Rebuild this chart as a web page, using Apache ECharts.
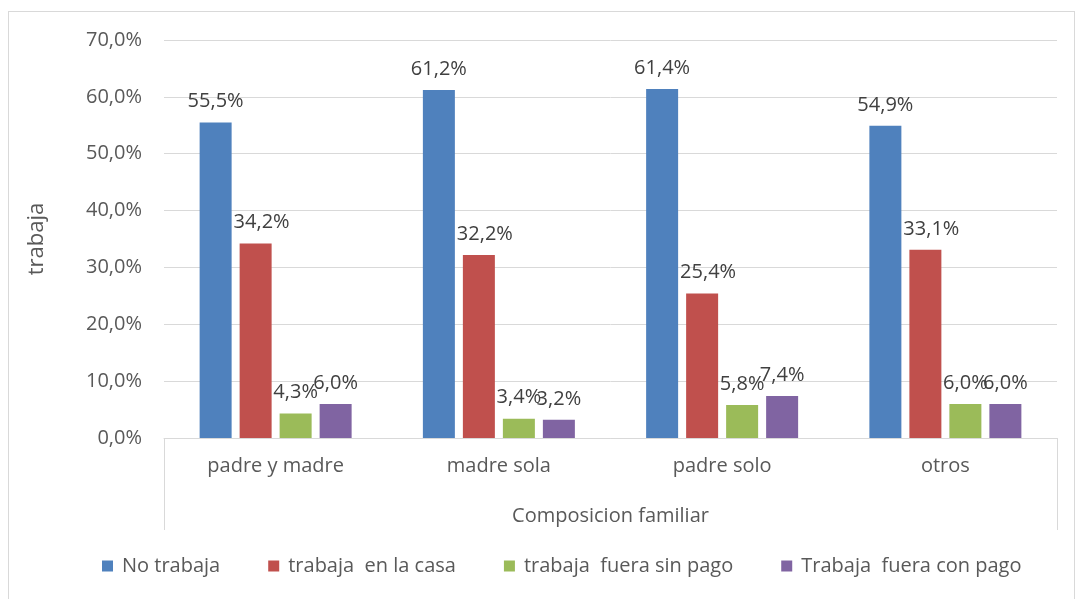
<!DOCTYPE html>
<html>
<head>
<meta charset="utf-8">
<script src="https://cdn.jsdelivr.net/npm/echarts@6/dist/echarts.min.js"></script>
<style>
  html, body { margin: 0; padding: 0; background: #fff; }
  .frame { position: absolute; left: 8px; top: 11px; width: 1067px; height: 600px; border: 1px solid #d9d9d9; box-sizing: border-box; }
  #chart { position: absolute; left: 0; top: 0; width: 1079px; height: 599px; }
</style>
</head>
<body>
<div class="frame"></div>
<div id="chart"></div>
<script>
  // categorias y series
  var categories = ['padre y madre', 'madre sola', 'padre solo', 'otros']
  var seriesNames = ['No trabaja', 'trabaja  en la casa', 'trabaja  fuera sin pago', 'Trabaja  fuera con pago']
  var noTrabaja = [55.5, 61.2, 61.4, 54.9]
  var enCasa = [34.2, 32.2, 25.4, 33.1]
  var sinPago = [4.3, 3.4, 5.8, 6.0]
  var conPago = [6.0, 3.2, 7.4, 6.0]
  var yTicks = [0, 10, 20, 30, 40, 50, 60, 70]

  var colors = ['#4F81BD', '#C0504D', '#9BBB59', '#8064A2']
  var font = 'Open Sans'

  function pct(v) {
    return v.toFixed(1).replace('.', ',') + '%'
  }

  function makeSeries(name, data, offsetX) {
    return {
      name: name,
      type: 'bar',
      data: data,
      barWidth: 32,
      barGap: '25%',
      label: {
        show: true,
        position: 'top',
        distance: 11,
        offset: [offsetX, 0],
        color: '#404040',
        fontFamily: font,
        fontSize: 20,
        formatter: function (p) { return pct(p.value) }
      }
    }
  }

  var chart = echarts.init(document.getElementById('chart'))
  chart.setOption({
    color: colors,
    animation: false,
    textStyle: { fontFamily: font },
    grid: { left: 164, right: 22, top: 40, bottom: 161 },
    legend: {
      bottom: 18,
      left: 97,
      itemWidth: 11,
      itemHeight: 11,
      itemGap: 48,
      icon: 'rect',
      textStyle: { color: '#595959', fontSize: 20, fontFamily: font, padding: [0, 0, 0, 4] },
      data: seriesNames
    },
    xAxis: {
      type: 'category',
      data: categories,
      name: 'Composicion familiar',
      nameLocation: 'middle',
      nameGap: 68,
      nameTextStyle: { color: '#595959', fontSize: 20 },
      axisLine: { lineStyle: { color: '#d9d9d9' } },
      axisTick: {
        show: true,
        length: 92,
        interval: function (index) { return index === 0 },
        lineStyle: { color: '#d9d9d9' }
      },
      axisLabel: { color: '#595959', fontSize: 20, margin: 18 }
    },
    yAxis: {
      type: 'value',
      min: yTicks[0],
      max: yTicks[yTicks.length - 1],
      interval: 10,
      name: 'trabaja',
      nameLocation: 'middle',
      nameGap: 116,
      nameRotate: 90,
      nameTextStyle: { color: '#595959', fontSize: 22 },
      axisLine: { show: false },
      axisTick: { show: false },
      axisLabel: {
        color: '#595959',
        fontSize: 20,
        margin: 22,
        formatter: function (v) { return pct(v) }
      },
      splitLine: { lineStyle: { color: '#d9d9d9' } }
    },
    series: [
      makeSeries(seriesNames[0], noTrabaja, 0),
      makeSeries(seriesNames[1], enCasa, 6),
      makeSeries(seriesNames[2], sinPago, 0),
      makeSeries(seriesNames[3], conPago, 0)
    ]
  })
</script>
</body>
</html>
